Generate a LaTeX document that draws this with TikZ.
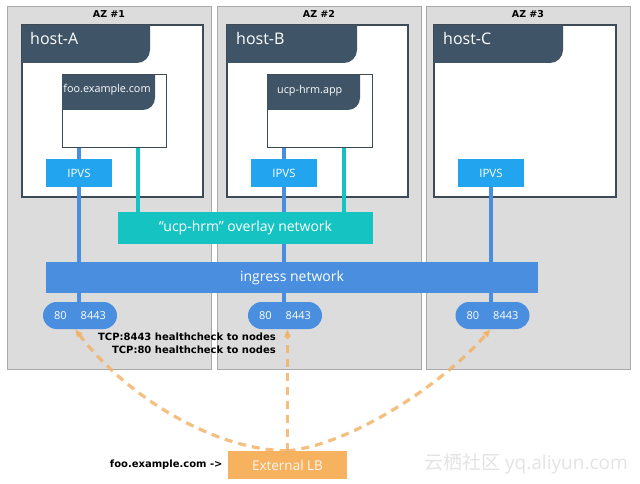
\documentclass[tikz,border=0pt]{standalone}
\usepackage{fontspec}
\setmainfont{Open Sans}
\newfontfamily\labfont{DejaVu Sans}
\newfontfamily\cjkfont{Noto Sans CJK SC}
\usetikzlibrary{arrows.meta,positioning}
\pgfdeclarelayer{back}
\pgfdeclarelayer{wires}
\pgfsetlayers{back,wires,main}
\definecolor{azfill}{HTML}{DCDCDC}
\definecolor{azline}{HTML}{A9A9A9}
\definecolor{hostline}{HTML}{3E4A55}
\definecolor{tabfill}{HTML}{3F5466}
\definecolor{ipvsblue}{HTML}{22A5EE}
\definecolor{ingblue}{HTML}{4A8EDF}
\definecolor{overlayteal}{HTML}{14C3C2}
\definecolor{lborange}{HTML}{F6B25E}
\definecolor{lbdash}{HTML}{F2B062}
\definecolor{wmark}{HTML}{E4E4E4}
\newcommand{\fsize}[1]{\fontsize{#1}{#1}\selectfont}
\tikzset{
  azbox/.style    = {draw=azline,fill=azfill,line width=1pt,minimum width=204pt,minimum height=362pt,inner sep=0pt},
  azlabel/.style  = {font=\labfont\bfseries\fsize{9.5},inner sep=0pt},
  hostbox/.style  = {draw=hostline,fill=white,line width=1.2pt,minimum height=172pt,inner sep=0pt},
  appbox/.style   = {draw=hostline,fill=white,line width=1pt,minimum height=73pt,inner sep=0pt},
  tablabel/.style = {text=white,inner sep=0pt},
  ipvsbox/.style  = {fill=ipvsblue,text=white,minimum width=66pt,minimum height=28pt,inner sep=0pt,font=\fsize{11.5}},
  netbar/.style   = {text=white,inner sep=0pt,font=\fsize{14}},
  portpill/.style = {fill=ingblue,text=white,rounded corners=13.5pt,minimum width=74pt,minimum height=27pt,inner sep=0pt,font=\fsize{11}},
  ingline/.style  = {ingblue,line width=4pt},
  ovline/.style   = {overlayteal,line width=4pt},
  hcarrow/.style  = {lbdash,opacity=.8,line width=3.2pt,dash pattern=on 8pt off 6pt,-{Triangle[length=8pt,width=6.5pt]}},
  note/.style     = {font=\labfont\bfseries\fsize{10},inner sep=0pt}
}
% left, top, right, bottom, radius
\newcommand{\hosttab}[5]{%
  \fill[tabfill] (#1,#2) -- (#3,#2) -- (#3,#4-#5)
    .. controls (#3,#4-#5*0.45) and (#3-#5*0.45,#4) .. (#3-#5,#4) -- (#1,#4) -- cycle;
}

\begin{document}
\begin{tikzpicture}[x=1pt,y=-1pt]
  \useasboundingbox (0,0) rectangle (640,484);

  \begin{pgfonlayer}{back}
  \fill[white] (0,0) rectangle (640,484);
  \node[azbox] (az1) at (109,188) {};
  \node[azbox] (az2) at (319,188) {};
  \node[azbox] (az3) at (528,188) {};
  \node[azlabel,anchor=base] at (109,18) {AZ \#1};
  \node[azlabel,anchor=base] at (319,18) {AZ \#2};
  \node[azlabel,anchor=base] at (528,18) {AZ \#3};

  \node[hostbox,minimum width=181pt] (hostA) at (112.5,111) {};
  \node[hostbox,minimum width=181pt] (hostB) at (317.5,111) {};
  \node[hostbox,minimum width=182pt] (hostC) at (525,111) {};
  \hosttab{22}{25}{150}{63}{13}
  \hosttab{227}{25}{357}{63}{13}
  \hosttab{434}{25}{563}{63}{13}
  \node[tablabel,anchor=base west,font=\fsize{16}] at (30,45)  {host-A};
  \node[tablabel,anchor=base west,font=\fsize{16}] at (236,45) {host-B};
  \node[tablabel,anchor=base west,font=\fsize{16}] at (443,45) {host-C};

  \node[appbox,minimum width=104pt] (fooapp) at (114,111.5)   {};
  \node[appbox,minimum width=105pt] (hrmapp) at (319.5,111.5) {};
  \hosttab{62}{75}{155}{110}{12}
  \hosttab{267}{75}{360}{110}{12}
  \node[tablabel,anchor=base,font=\fsize{10.8}]      at (107,93)  {foo.example.com};
  \node[tablabel,anchor=base west,font=\fsize{10.8}] at (277,94)  {ucp-hrm.app};
  \end{pgfonlayer}

  \node[ipvsbox] (ipvsA) at (79,173)  {IPVS};
  \node[ipvsbox] (ipvsB) at (284,173) {IPVS};
  \node[ipvsbox] (ipvsC) at (491,173) {IPVS};
  \node[netbar,fill=overlayteal,minimum width=255pt,minimum height=32pt] (overlay) at (245.5,228) {``ucp-hrm'' overlay network};
  \node[netbar,fill=ingblue,minimum width=492pt,minimum height=31pt] (ingress) at (292,277.5) {ingress network};
  \node[portpill] (portsA) at (80,315.5)    {80\hspace{14pt}8443};
  \node[portpill] (portsB) at (285,315.5)   {80\hspace{14pt}8443};
  \node[portpill] (portsC) at (492.5,315.5) {80\hspace{14pt}8443};
  \coordinate (tealA) at (138,148);
  \coordinate (tealB) at (344,148);

  \begin{pgfonlayer}{wires}
  \draw[ingline] (ipvsA |- fooapp.south) -- (ipvsA |- portsA.center);
  \draw[ingline] (ipvsB |- hrmapp.south) -- (ipvsB |- portsB.center);
  \draw[ingline] (ipvsC.center) -- (ipvsC |- portsC.center);
  \draw[ovline] (tealA) -- (tealA |- overlay.north);
  \draw[ovline] (tealB) -- (tealB |- overlay.north);
  \end{pgfonlayer}

  \node[fill=lborange,text=white!90!lborange,minimum width=119pt,minimum height=28pt,inner sep=0pt,font=\fsize{13.5}] (extlb) at (287.5,465) {External LB};
  \node[note,left=5pt of extlb] (fooname) {foo.example.com ->};

  \draw[hcarrow] (extlb.north) .. controls (215,450) and (128,398) .. ([xshift=-5pt]portsA.south);
  \draw[hcarrow] (extlb.north) -- (extlb.north |- portsB.south);
  \draw[hcarrow] (extlb.north) .. controls (350,445) and (442,385) .. ([xshift=-2pt]portsC.south);

  \node[note,anchor=north east,align=right,font=\labfont\bfseries\fontsize{10}{13}\selectfont] (tcpnote) at (276,332.5)
    {TCP:8443 healthcheck to nodes\\TCP:80 healthcheck to nodes};

  \node[anchor=base west,inner sep=0pt,text=wmark,font=\fsize{19}] (watermark) at (424,469) {{\cjkfont 云栖社区} yq.aliyun.com};
\end{tikzpicture}
\end{document}
